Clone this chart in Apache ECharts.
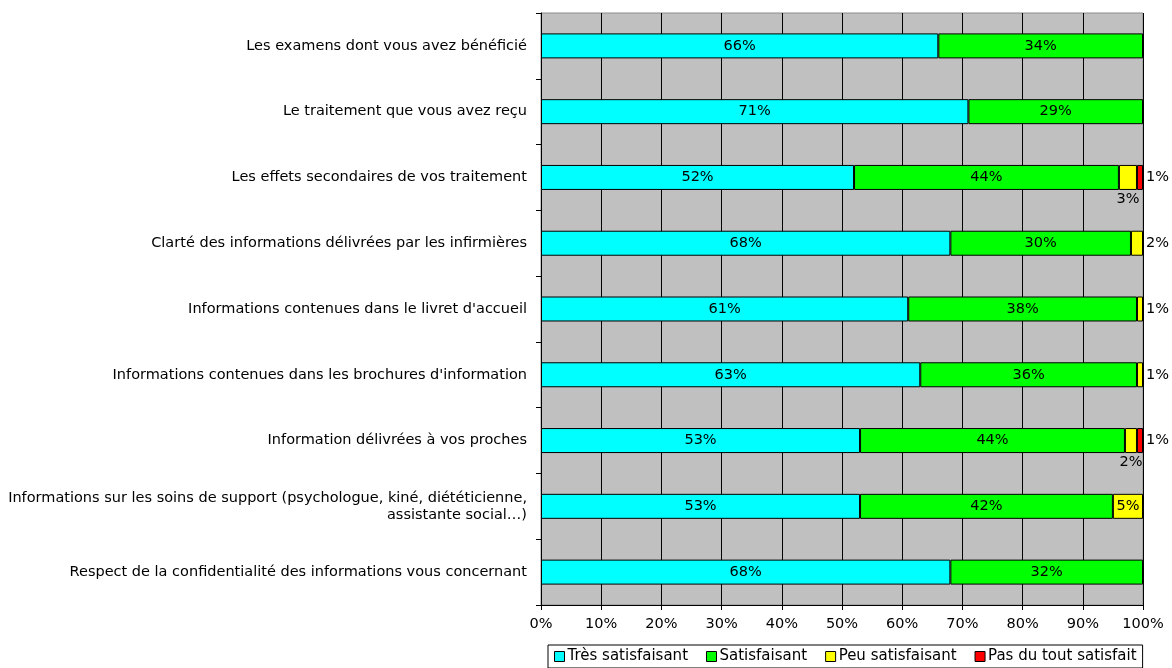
<!DOCTYPE html>
<html>
<head>
<meta charset="utf-8">
<script src="https://cdn.jsdelivr.net/npm/echarts@6/dist/echarts.min.js"></script>
<style>
html,body{margin:0;padding:0;background:#fff;}
#chart{width:1172px;height:668px;}
</style>
</head>
<body>
<div id="chart"></div>
<script>
const categories = [
  "Les examens dont vous avez bénéficié",
  "Le traitement que vous avez reçu",
  "Les effets secondaires de vos traitement",
  "Clarté des informations délivrées par les infirmières",
  "Informations contenues dans le livret d'accueil",
  "Informations contenues dans les brochures d'information",
  "Information délivrées à vos proches",
  "Informations sur les soins de support (psychologue, kiné, diététicienne,\nassistante social…)",
  "Respect de la confidentialité des informations vous concernant"
];
const seriesNames = ["Très satisfaisant", "Satisfaisant", "Peu satisfaisant", "Pas du tout satisfait"];
const tresSatisfaisant = [66, 71, 52, 68, 61, 63, 53, 53, 68];
const satisfaisant     = [34, 29, 44, 30, 38, 36, 44, 42, 32];
const peuSatisfaisant  = [0, 0, 3, 2, 1, 1, 2, 5, 0];
const pasDuTout        = [0, 0, 1, 0, 0, 0, 1, 0, 0];
const xTicks = [0, 10, 20, 30, 40, 50, 60, 70, 80, 90, 100];

const colors = ["#00FFFF", "#00FF00", "#FFFF00", "#FF0000"];
const all = [tresSatisfaisant, satisfaisant, peuSatisfaisant, pasDuTout];
const FONT = "'DejaVu Sans', sans-serif";
const FS = 14.5;

function lastNonZero(i) {
  let k = -1;
  for (let s = 0; s < all.length; s++) if (all[s][i] > 0) k = s;
  return k;
}

const series = all.map((arr, s) => ({
  name: seriesNames[s],
  type: 'bar',
  stack: 'total',
  barWidth: '38%',
  itemStyle: { color: colors[s], borderColor: '#000', borderWidth: 1 },
  label: {
    show: true, position: 'inside', color: '#000',
    fontFamily: FONT, fontSize: FS,
    formatter: p => p.value + '%'
  },
  data: arr.map((v, i) => {
    if (v === 0) return { value: 0, itemStyle: { borderWidth: 0 }, label: { show: false } };
    if (v >= 5) return { value: v };
    const pos = (lastNonZero(i) === s) ? 'right' : 'bottom';
    return { value: v, label: { position: pos, distance: pos === 'right' ? 3 : 2 } };
  })
}));

const chart = echarts.init(document.getElementById('chart'), null, { renderer: 'canvas' });
chart.setOption({
  animation: false,
  backgroundColor: '#fff',
  textStyle: { fontFamily: FONT },
  grid: {
    left: 541, right: 29, top: 13, bottom: 63,
    containLabel: false, outerBoundsMode: 'none',
    show: true, backgroundColor: '#C0C0C0', borderColor: '#8c8c8c', borderWidth: 1
  },
  legend: {
    data: seriesNames,
    left: 548, bottom: 0,
    icon: 'rect', itemWidth: 10, itemHeight: 10, itemGap: 18,
    padding: [4, 6, 4, 6],
    borderColor: '#000', borderWidth: 1,
    textStyle: { fontFamily: FONT, fontSize: 15, color: '#000', padding: [0, 0, 0, -2] },
    itemStyle: { borderColor: '#000', borderWidth: 1 }
  },
  xAxis: {
    type: 'value', min: 0, max: 100, interval: 10,
    axisLine: { show: true, lineStyle: { color: '#000', width: 1 } },
    axisTick: { show: true, length: 5, lineStyle: { color: '#000' } },
    axisLabel: { formatter: v => xTicks.includes(v) ? v + '%' : '', color: '#000', fontFamily: FONT, fontSize: FS, margin: 12 },
    splitLine: { show: true, lineStyle: { color: '#000', width: 1 } }
  },
  yAxis: {
    type: 'category', data: categories, inverse: true,
    axisLine: { show: true, lineStyle: { color: '#000', width: 1 } },
    axisTick: { show: true, length: 5, lineStyle: { color: '#000' } },
    axisLabel: { color: '#000', fontFamily: FONT, fontSize: FS, margin: 14, align: 'right', lineHeight: 17 },
    splitLine: { show: false }
  },
  series: series
});
</script>
</body>
</html>
